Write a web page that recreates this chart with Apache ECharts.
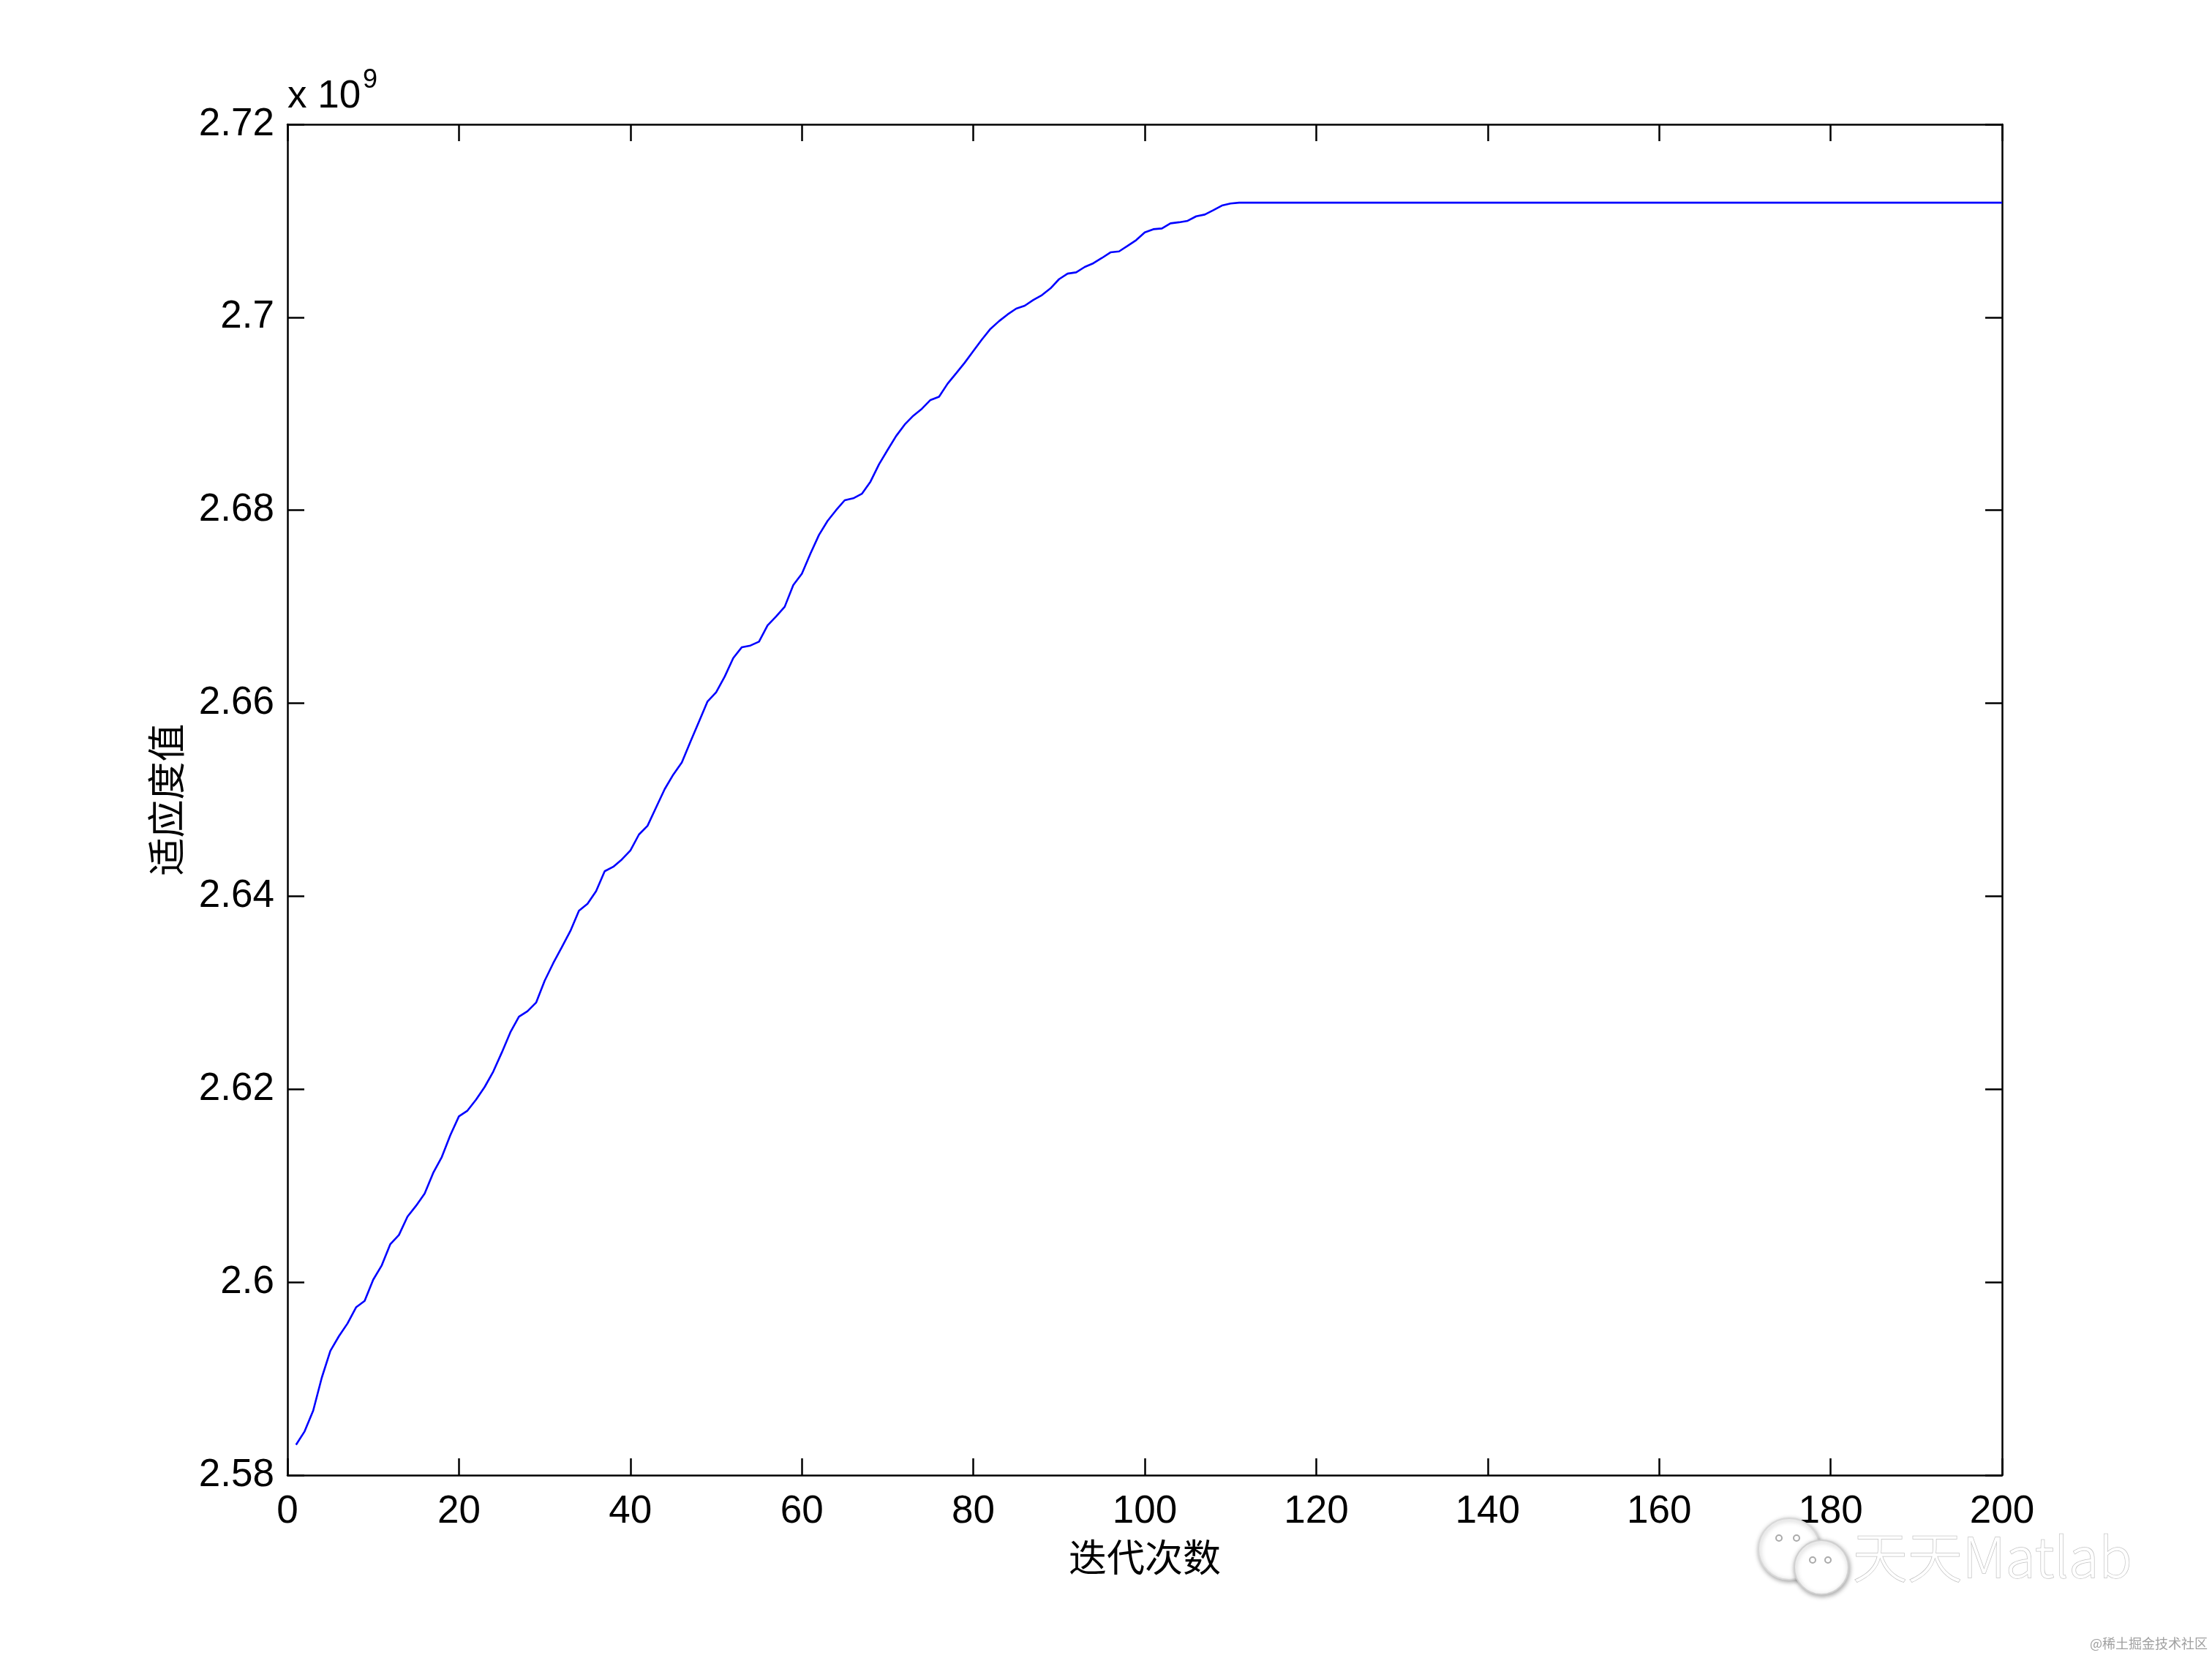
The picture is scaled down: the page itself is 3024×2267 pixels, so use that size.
<!DOCTYPE html>
<html>
<head>
<meta charset="utf-8">
<script src="https://cdn.jsdelivr.net/npm/echarts@6/dist/echarts.min.js"></script>
<style>
  html, body { margin: 0; padding: 0; background: #ffffff; }
  #chart { width: 3024px; height: 2267px; }
</style>
</head>
<body>
<div id="chart"></div>
<script>
// ---------- data (fitness values in units of 10^9) ----------
const xTitle = '迭代次数';
const yTitle = '适应度值';
const yExponent = '9';
const xTicks = [0, 20, 40, 60, 80, 100, 120, 140, 160, 180, 200];
const yTicks = [2.58, 2.60, 2.62, 2.64, 2.66, 2.68, 2.70, 2.72];

// fitness per iteration, iterations 1..110 (rising part)
const fitnessRise = [
  2.58315, 2.58454, 2.58669, 2.59010, 2.59288, 2.59440, 2.59572, 2.59739, 2.59806, 2.60026,
  2.60175, 2.60395, 2.60489, 2.60679, 2.60792, 2.60918, 2.61133, 2.61297, 2.61525, 2.61719,
  2.61778, 2.61892, 2.62023, 2.62182, 2.62380, 2.62590, 2.62751, 2.62809, 2.62897, 2.63124,
  2.63306, 2.63471, 2.63640, 2.63850, 2.63921, 2.64052, 2.64259, 2.64305, 2.64381, 2.64474,
  2.64640, 2.64730, 2.64920, 2.65110, 2.65260, 2.65386, 2.65600, 2.65810, 2.66019, 2.66114,
  2.66276, 2.66469, 2.66581, 2.66598, 2.66638, 2.66807, 2.66900, 2.67000, 2.67224, 2.67342,
  2.67550, 2.67745, 2.67890, 2.68002, 2.68104, 2.68124, 2.68171, 2.68296, 2.68476, 2.68625,
  2.68770, 2.68889, 2.68980, 2.69052, 2.69143, 2.69177, 2.69312, 2.69420, 2.69530, 2.69650,
  2.69770, 2.69880, 2.69960, 2.70030, 2.70090, 2.70120, 2.70180, 2.70230, 2.70300, 2.70395,
  2.70453, 2.70466, 2.70522, 2.70560, 2.70615, 2.70673, 2.70683, 2.70741, 2.70800, 2.70880,
  2.70913, 2.70921, 2.70974, 2.70985, 2.71000, 2.71047, 2.71065, 2.71110, 2.71158, 2.71179
];
// iterations 111..200 (converged plateau)
const fitnessPlateau = [
  2.71188, 2.71188, 2.71188, 2.71188, 2.71188, 2.71188, 2.71188, 2.71188, 2.71188, 2.71188,
  2.71188, 2.71188, 2.71188, 2.71188, 2.71188, 2.71188, 2.71188, 2.71188, 2.71188, 2.71188,
  2.71188, 2.71188, 2.71188, 2.71188, 2.71188, 2.71188, 2.71188, 2.71188, 2.71188, 2.71188,
  2.71188, 2.71188, 2.71188, 2.71188, 2.71188, 2.71188, 2.71188, 2.71188, 2.71188, 2.71188,
  2.71188, 2.71188, 2.71188, 2.71188, 2.71188, 2.71188, 2.71188, 2.71188, 2.71188, 2.71188,
  2.71188, 2.71188, 2.71188, 2.71188, 2.71188, 2.71188, 2.71188, 2.71188, 2.71188, 2.71188,
  2.71188, 2.71188, 2.71188, 2.71188, 2.71188, 2.71188, 2.71188, 2.71188, 2.71188, 2.71188,
  2.71188, 2.71188, 2.71188, 2.71188, 2.71188, 2.71188, 2.71188, 2.71188, 2.71188, 2.71188,
  2.71188, 2.71188, 2.71188, 2.71188, 2.71188, 2.71188, 2.71188, 2.71188, 2.71188, 2.71188
];
const watermarkText = '天天Matlab';
const creditText = '@稀土掘金技术社区';

// ---------- build ----------
const fitness = fitnessRise.concat(fitnessPlateau);
const seriesData = fitness.map((v, i) => [i + 1, v]);

const latin = '"Liberation Sans", Arial, Helvetica, sans-serif';
const cjk = '"Noto Sans CJK SC", "Noto Sans CJK JP", sans-serif';
const black = '#000000';
const axisLineStyle = { color: black, width: 2.5 };

const xMin = xTicks[0], xMax = xTicks[xTicks.length - 1], xStep = xTicks[1] - xTicks[0];
const yMin = yTicks[0], yMax = yTicks[yTicks.length - 1];
const yStep = +(yTicks[1] - yTicks[0]).toFixed(4);

const fmtY = v => String(parseFloat(v.toFixed(2)));

const chart = echarts.init(document.getElementById('chart'), null, { renderer: 'canvas' });

const option = {
  animation: false,
  backgroundColor: '#ffffff',
  grid: { left: 393, right: 287, top: 170, bottom: 250, containLabel: false },
  xAxis: [
    {
      type: 'value', position: 'bottom', min: xMin, max: xMax, interval: xStep,
      axisLine: { show: true, onZero: false, lineStyle: axisLineStyle },
      axisTick: { show: true, inside: true, length: 23, lineStyle: axisLineStyle },
      axisLabel: { show: true, color: black, fontSize: 53, fontFamily: latin, margin: 24 },
      splitLine: { show: false },
      name: xTitle, nameLocation: 'middle', nameGap: 86,
      nameTextStyle: { color: black, fontSize: 52, fontFamily: cjk }
    },
    {
      type: 'value', position: 'top', min: xMin, max: xMax, interval: xStep,
      axisLine: { show: true, onZero: false, lineStyle: axisLineStyle },
      axisTick: { show: true, inside: true, length: 23, lineStyle: axisLineStyle },
      axisLabel: { show: false },
      splitLine: { show: false }
    }
  ],
  yAxis: [
    {
      type: 'value', position: 'left', min: yMin, max: yMax, interval: yStep,
      axisLine: { show: true, onZero: false, lineStyle: axisLineStyle },
      axisTick: { show: true, inside: true, length: 23, lineStyle: axisLineStyle },
      axisLabel: { show: true, color: black, fontSize: 53, fontFamily: latin, margin: 18, formatter: fmtY },
      splitLine: { show: false },
      name: yTitle, nameLocation: 'middle', nameGap: 140, nameRotate: 90,
      nameTextStyle: { color: black, fontSize: 52, fontFamily: cjk }
    },
    {
      type: 'value', position: 'right', min: yMin, max: yMax, interval: yStep,
      axisLine: { show: true, onZero: false, lineStyle: axisLineStyle },
      axisTick: { show: true, inside: true, length: 23, lineStyle: axisLineStyle },
      axisLabel: { show: false },
      splitLine: { show: false }
    }
  ],
  series: [
    {
      type: 'line', xAxisIndex: 0, yAxisIndex: 0,
      data: seriesData,
      showSymbol: false, symbol: 'none', smooth: false,
      lineStyle: { color: '#0000ff', width: 2.6 },
      z: 3
    }
  ],
  graphic: [
    // exponent label "x 10^9"
    { type: 'text', left: 393, top: 106, z: 10,
      style: { text: 'x 10', fill: black, font: '53px ' + latin } },
    { type: 'text', left: 496, top: 92, z: 10,
      style: { text: yExponent, fill: black, font: '36px ' + latin } },
    // watermark logo (two speech bubbles)
    { type: 'circle', shape: { cx: 2446, cy: 2118, r: 42 }, z: 1,
      style: { fill: '#ffffff', stroke: '#d8d8d8', lineWidth: 2,
               shadowBlur: 6, shadowColor: 'rgba(0,0,0,0.35)', shadowOffsetX: 1, shadowOffsetY: 2 } },
    { type: 'circle', shape: { cx: 2432, cy: 2103, r: 4 }, z: 1,
      style: { fill: '#ffffff', stroke: '#aaaaaa', lineWidth: 2 } },
    { type: 'circle', shape: { cx: 2456, cy: 2103, r: 4 }, z: 1,
      style: { fill: '#ffffff', stroke: '#aaaaaa', lineWidth: 2 } },
    { type: 'circle', shape: { cx: 2490, cy: 2143, r: 37 }, z: 2,
      style: { fill: '#ffffff', stroke: '#d0d0d0', lineWidth: 2,
               shadowBlur: 6, shadowColor: 'rgba(0,0,0,0.35)', shadowOffsetX: 1, shadowOffsetY: 2 } },
    { type: 'circle', shape: { cx: 2478, cy: 2133, r: 4 }, z: 2,
      style: { fill: '#ffffff', stroke: '#aaaaaa', lineWidth: 2 } },
    { type: 'circle', shape: { cx: 2499, cy: 2133, r: 4 }, z: 2,
      style: { fill: '#ffffff', stroke: '#aaaaaa', lineWidth: 2 } },
    // watermark text
    { type: 'text', left: 2532, top: 2090, z: 2,
      style: { text: watermarkText, fill: '#ffffff', stroke: '#c4c4c4', lineWidth: 1.5,
               font: '300 75px ' + cjk,
               shadowBlur: 3, shadowColor: 'rgba(0,0,0,0.35)', shadowOffsetX: 1, shadowOffsetY: 2 } },
    { type: 'text', right: 6, top: 2238, z: 2,
      style: { text: creditText, fill: '#a0a0a0', font: '18px ' + cjk } }
  ]
};

chart.setOption(option);
</script>
</body>
</html>
